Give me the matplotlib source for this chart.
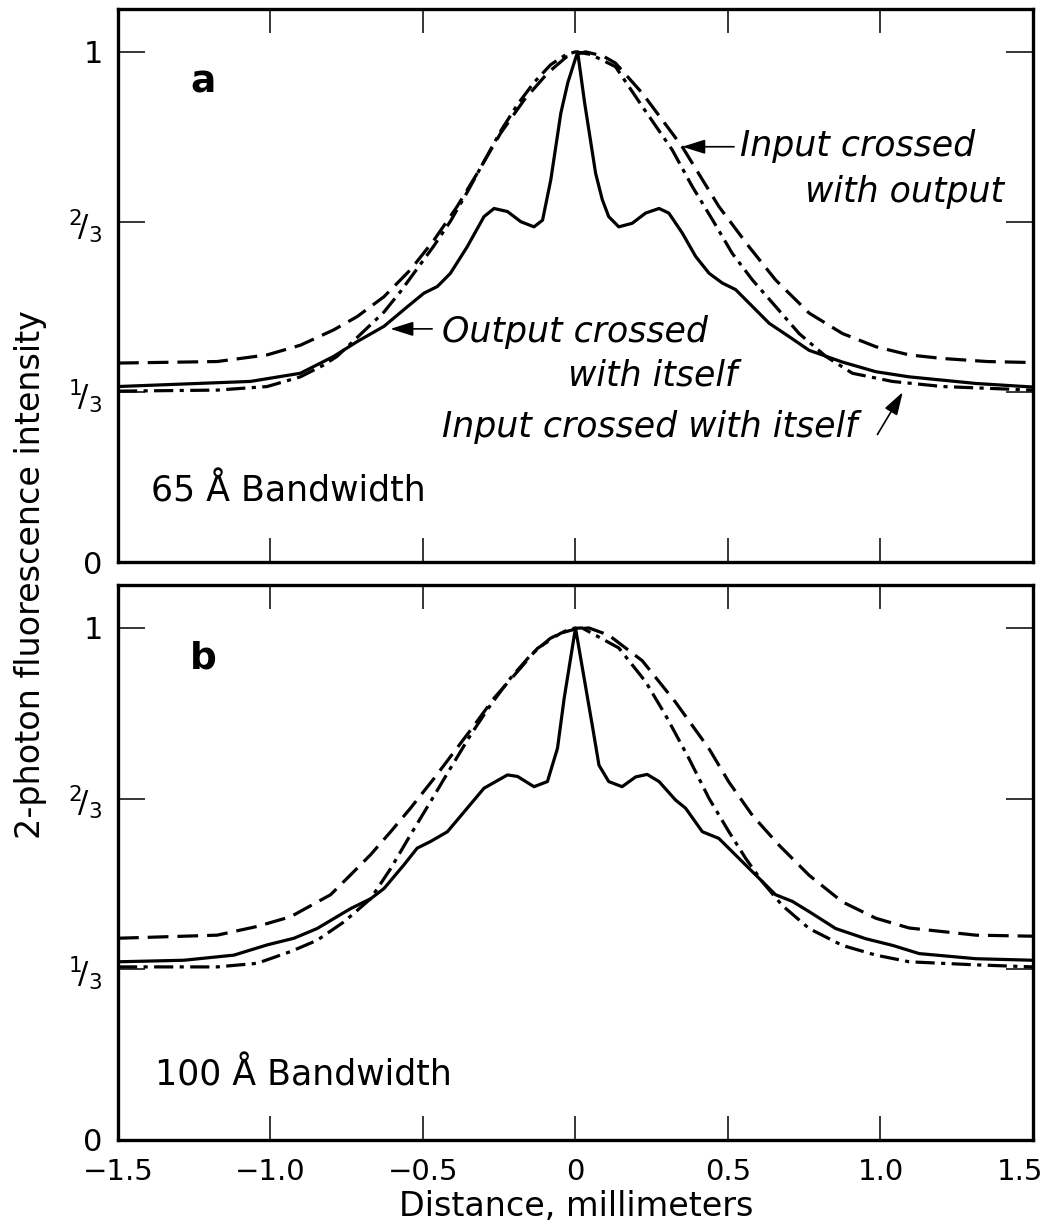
import numpy as np
import matplotlib
matplotlib.use("Agg")
import matplotlib.pyplot as plt
from matplotlib.transforms import ScaledTranslation

plt.rcParams['font.family'] = ['DejaVu Sans']
plt.rcParams['mathtext.fontset'] = 'dejavusans'

# ---- panel a (65 A bandwidth) ----
a_io_x = [-1.5, -1.175, -1.011, -0.902, -0.793, -0.716, -0.628, -0.541, -0.464, -0.388, -0.322,
          -0.245, -0.168, -0.092, -0.03, 0.033, 0.09, 0.131, 0.219, 0.35, 0.47, 0.569, 0.656,
          0.766, 0.875, 0.985, 1.094, 1.203, 1.35, 1.5]
a_io_y = [0.39, 0.393, 0.406, 0.425, 0.455, 0.481, 0.52, 0.573, 0.631, 0.697, 0.762,
          0.841, 0.906, 0.958, 0.99, 1.0, 0.992, 0.978, 0.919, 0.814, 0.697, 0.618, 0.553,
          0.488, 0.448, 0.422, 0.406, 0.399, 0.393, 0.391]

a_ii_x = [-1.5, -1.175, -1.011, -0.902, -0.826, -0.782, -0.716, -0.672, -0.628, -0.574, -0.519,
          -0.464, -0.41, -0.355, -0.30, -0.245, -0.19, -0.136, -0.081, -0.03, 0.0, 0.05, 0.131,
          0.219, 0.317, 0.383, 0.449, 0.514, 0.58, 0.656, 0.733, 0.821, 0.908, 1.039, 1.203, 1.5]
a_ii_y = [0.335, 0.337, 0.344, 0.363, 0.386, 0.403, 0.44, 0.465, 0.49, 0.53, 0.575,
          0.62, 0.668, 0.725, 0.785, 0.845, 0.897, 0.94, 0.975, 0.995, 1.0, 0.995, 0.971,
          0.893, 0.808, 0.736, 0.671, 0.605, 0.553, 0.501, 0.448, 0.403, 0.37, 0.354, 0.344, 0.337]

a_oo_x = [-1.5, -1.066, -0.902, -0.793, -0.716, -0.628, -0.552, -0.497, -0.453, -0.41, -0.355,
          -0.30, -0.267, -0.223, -0.179, -0.136, -0.108, -0.081, -0.048, -0.025, 0.007, 0.03,
          0.066, 0.088, 0.109, 0.142, 0.186, 0.23, 0.274, 0.306, 0.35, 0.394, 0.438, 0.481,
          0.525, 0.58, 0.635, 0.70, 0.766, 0.875, 0.985, 1.094, 1.313, 1.5]
a_oo_y = [0.344, 0.354, 0.37, 0.403, 0.432, 0.462, 0.50, 0.527, 0.54, 0.566, 0.618,
          0.677, 0.693, 0.687, 0.667, 0.657, 0.67, 0.749, 0.88, 0.94, 1.0, 0.9,
          0.762, 0.71, 0.677, 0.657, 0.664, 0.684, 0.693, 0.684, 0.645, 0.599, 0.566, 0.547,
          0.534, 0.501, 0.468, 0.442, 0.415, 0.392, 0.373, 0.363, 0.35, 0.343]

# ---- panel b (100 A bandwidth) ----
b_io_x = [-1.5, -1.175, -1.044, -0.934, -0.803, -0.737, -0.672, -0.606, -0.541, -0.464, -0.398,
          -0.332, -0.267, -0.19, -0.125, -0.048, 0.0, 0.044, 0.109, 0.219, 0.328, 0.438, 0.503,
          0.58, 0.667, 0.766, 0.875, 0.985, 1.094, 1.313, 1.5]
b_io_y = [0.394, 0.40, 0.417, 0.436, 0.479, 0.518, 0.557, 0.602, 0.648, 0.706, 0.758,
          0.81, 0.863, 0.915, 0.96, 0.99, 0.998, 1.0, 0.986, 0.936, 0.855, 0.764, 0.699,
          0.634, 0.576, 0.517, 0.465, 0.433, 0.414, 0.40, 0.398]

b_ii_x = [-1.5, -1.175, -1.044, -0.934, -0.847, -0.759, -0.672, -0.606, -0.541, -0.475, -0.41,
          -0.344, -0.278, -0.213, -0.147, -0.082, -0.016, 0.022, 0.142, 0.23, 0.295, 0.372,
          0.438, 0.503, 0.558, 0.613, 0.678, 0.766, 0.875, 0.985, 1.094, 1.313, 1.5]
b_ii_y = [0.338, 0.338, 0.345, 0.368, 0.39, 0.426, 0.471, 0.53, 0.596, 0.661, 0.726,
          0.791, 0.85, 0.902, 0.947, 0.98, 0.999, 1.0, 0.961, 0.895, 0.83, 0.745,
          0.667, 0.602, 0.55, 0.504, 0.458, 0.413, 0.38, 0.361, 0.348, 0.342, 0.338]

b_oo_x = [-1.5, -1.284, -1.12, -1.011, -0.923, -0.847, -0.737, -0.672, -0.628, -0.563, -0.519,
          -0.475, -0.42, -0.355, -0.30, -0.223, -0.19, -0.136, -0.092, -0.059, -0.037, 0.0,
          0.055, 0.077, 0.109, 0.153, 0.197, 0.235, 0.274, 0.328, 0.361, 0.416, 0.47, 0.514,
          0.58, 0.656, 0.711, 0.766, 0.853, 0.952, 1.04, 1.127, 1.313, 1.5]
b_oo_y = [0.348, 0.351, 0.361, 0.381, 0.394, 0.413, 0.452, 0.471, 0.491, 0.537, 0.57,
          0.583, 0.602, 0.648, 0.687, 0.713, 0.71, 0.69, 0.70, 0.765, 0.863, 1.0,
          0.81, 0.732, 0.70, 0.69, 0.709, 0.714, 0.70, 0.664, 0.648, 0.602, 0.589, 0.563,
          0.524, 0.479, 0.466, 0.446, 0.413, 0.393, 0.38, 0.364, 0.354, 0.351]

xticks = [-1.5, -1.0, -0.5, 0, 0.5, 1.0, 1.5]
xticklabels = ['\u22121.5', '\u22121.0', '\u22120.5', '0', '0.5', '1.0', '1.5']
yticks = [0, 1/3, 2/3, 1]
yticklabels = ['0', r'$^1\!/_3$', r'$^2\!/_3$', '1']

fig = plt.figure(figsize=(10.47, 12.32), dpi=100)
ax_a = fig.add_axes([0.1127, 0.5438, 0.8739, 0.4489])
ax_b = fig.add_axes([0.1127, 0.0747, 0.8739, 0.4505])

dash = (6.5, 2.8)
dashdot = (6.0, 2.0, 1.3, 2.0)

def setup(ax, show_xlabels):
    ax.set_xlim(-1.5, 1.5)
    ax.set_ylim(0, 1.084)
    for sp in ax.spines.values():
        sp.set_linewidth(2.4)
    ax.set_xticks(xticks)
    ax.set_yticks(yticks)
    ax.set_yticklabels(yticklabels, fontsize=22)
    ax.set_xticklabels([])
    if show_xlabels:
        # tick labels drawn as text so the last one can be nudged inside the figure
        for xv, lab in zip(xticks, xticklabels):
            shift = -9 if xv == xticks[-1] else 0
            tr = ax.get_xaxis_transform() + ScaledTranslation(shift/72, -13/72, fig.dpi_scale_trans)
            ax.text(xv, 0, lab, fontsize=21, ha='center', va='top', transform=tr)
    ax.tick_params(axis='x', direction='in', length=17, width=1.1, top=True)
    ax.tick_params(axis='y', direction='in', length=19.5, width=1.1, right=True, pad=11)

for ax, (iox, ioy, iix, iiy, oox, ooy) in [
        (ax_a, (a_io_x, a_io_y, a_ii_x, a_ii_y, a_oo_x, a_oo_y)),
        (ax_b, (b_io_x, b_io_y, b_ii_x, b_ii_y, b_oo_x, b_oo_y))]:
    ax.plot(iox, ioy, color='k', lw=2.3, dashes=dash)
    ax.plot(iix, iiy, color='k', lw=2.3, dashes=dashdot)
    ax.plot(oox, ooy, color='k', lw=2.3, solid_joinstyle='round')

setup(ax_a, False)
setup(ax_b, True)

# panel letters and bandwidth labels
ax_a.text(-1.22, 0.92, 'a', fontsize=27, fontweight='bold', ha='center', va='baseline')
ax_b.text(-1.22, 0.92, 'b', fontsize=27, fontweight='bold', ha='center', va='baseline')
ax_a.text(-1.393, 0.118, '65 Å Bandwidth', fontsize=25, ha='left', va='baseline')
ax_b.text(-1.38, 0.106, '100 Å Bandwidth', fontsize=25, ha='left', va='baseline')

# annotations, panel a
arrow = dict(arrowstyle='-|>,head_length=0.7,head_width=0.22', color='k', lw=1.2,
             mutation_scale=20, shrinkA=0, shrinkB=0)
ax_a.text(0.54, 0.795, 'Input crossed', fontsize=25, style='italic', ha='left', va='baseline')
ax_a.text(1.405, 0.706, 'with output', fontsize=25, style='italic', ha='right', va='baseline')
ax_a.annotate('', xy=(0.35, 0.814), xytext=(0.52, 0.814), arrowprops=arrow)

ax_a.text(-0.437, 0.432, 'Output crossed', fontsize=25, style='italic', ha='left', va='baseline')
ax_a.text(-0.026, 0.347, 'with itself', fontsize=25, style='italic', ha='left', va='baseline')
ax_a.annotate('', xy=(-0.607, 0.457), xytext=(-0.47, 0.457), arrowprops=arrow)

ax_a.text(-0.437, 0.246, 'Input crossed with itself', fontsize=25, style='italic',
          ha='left', va='baseline')
ax_a.annotate('', xy=(1.073, 0.333), xytext=(0.99, 0.25), arrowprops=arrow)

fig.text(0.029, 0.534, '2-photon fluorescence intensity', fontsize=24, rotation=90,
         ha='center', va='center')
fig.text(0.55, 0.021, 'Distance, millimeters', fontsize=24, ha='center', va='center')

fig.savefig('out.png', dpi=100, facecolor='white')
